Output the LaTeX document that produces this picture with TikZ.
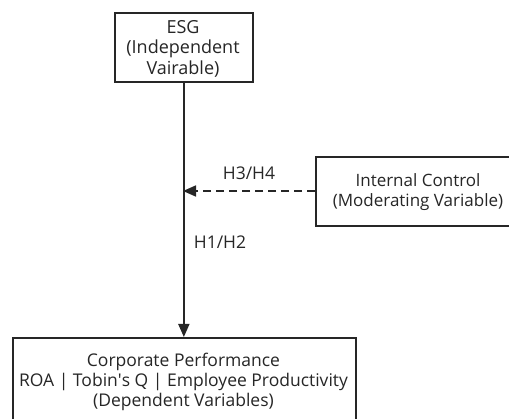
\documentclass[tikz,border=0pt]{standalone}
\usepackage{fontspec}
\setmainfont{Open Sans}
\usetikzlibrary{arrows.meta}
\begin{document}
\begin{tikzpicture}[x=1pt,y=-1pt,
  varbox/.style={draw=black!85,line width=1.7pt,fill=white},
  lbl/.style={text=black!85,font=\fontsize{17}{20.5}\selectfont,align=center,inner sep=0pt},
  link/.style={draw=black!85,line width=1.7pt,-{Triangle[length=13pt,width=11pt]}}]
  \useasboundingbox (0,0) rectangle (509,419);
  \clip (0,0) rectangle (509,419);
  % variable boxes
  \node[varbox,minimum width=138pt,minimum height=69pt,anchor=north west] (esg) at (114,12) {};
  \node[lbl,font=\fontsize{18}{20.5}\selectfont] (esgt) at (183,48.5) {ESG\\(Independent\\Vairable)};
  \node[varbox,minimum width=343pt,minimum height=100pt,anchor=north west] (perf) at (12,337) {};
  \node[lbl,font=\fontsize{17.5}{20}\selectfont] (perft) at (183.5,382) {Corporate Performance\\ROA | Tobin\textquotesingle s Q | Employee Productivity\\(Dependent Variables)};
  \node[varbox,minimum width=220pt,minimum height=69pt,anchor=north west] (ic) at (315,156) {};
  \node[lbl] (ict) at (418,192) {Internal Control\\(Moderating Variable)};
  % main effect and moderation
  \coordinate (mod) at (183,191);
  \draw[link] (esg.south) -- (perf.north -| esg.south);
  \draw[link,dash pattern=on 8pt off 5pt] (ic.west |- mod) -- (mod);
  \node[lbl,font=\fontsize{17.5}{20}\selectfont] (h34) at (249,173) {H3/H4};
  \node[lbl,font=\fontsize{17.5}{20}\selectfont] (h12) at (220,242) {H1/H2};
\end{tikzpicture}
\end{document}
